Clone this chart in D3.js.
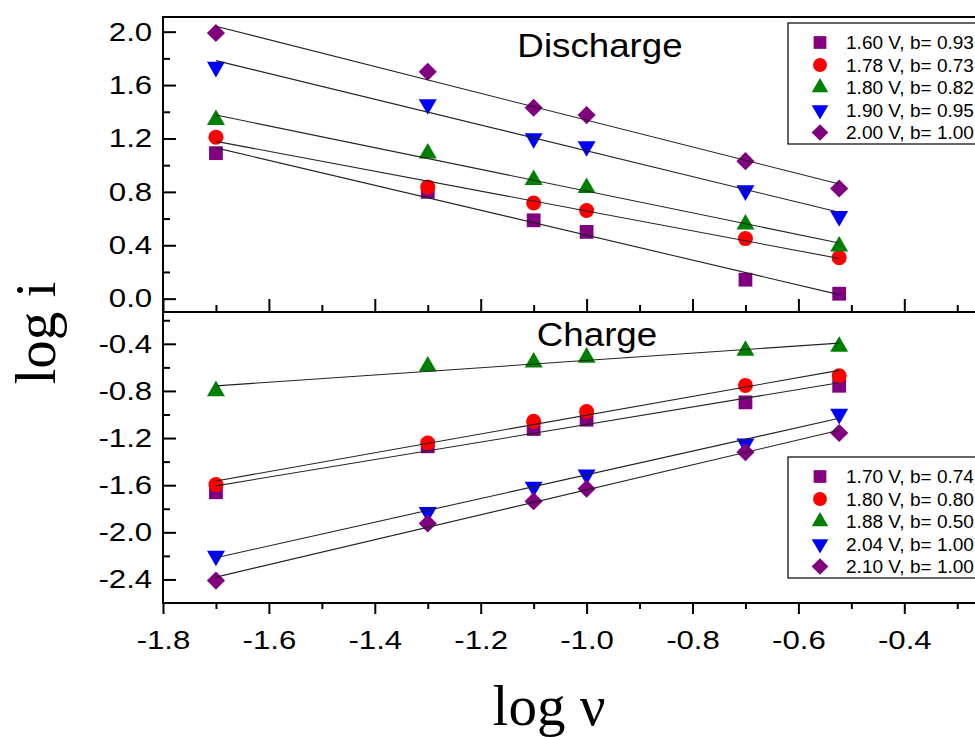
<!DOCTYPE html>
<head><meta charset="utf-8"/></head>
<style>
body { margin: 0; background: #fff; }
svg { display: block; background: #fff; }
.sans { font-family: "Liberation Sans", Arial, sans-serif; }
.serif { font-family: "Liberation Serif", "Times New Roman", serif; }
.fit { fill: none; stroke: #222; stroke-width: 1.1; }
.frame { stroke: #000; stroke-width: 2; }
.tick line { stroke: #000; stroke-width: 2; }
</style>
<script src="https://d3js.org/d3.v7.min.js"></script>
<body>
<div id="chart"></div>
</body>
<script>

// scan rates (log v), shared by both panels
var logV = [-1.7, -1.3, -1.1, -1.0, -0.7, -0.523];

// discharge panel
var disVolt = ["1.60", "1.78", "1.80", "1.90", "2.00"];
var disB = ["0.93", "0.73", "0.82", "0.95", "1.00"];
var dis160 = [1.09, 0.80, 0.587, 0.50, 0.142, 0.037];
var dis178 = [1.21, 0.837, 0.717, 0.66, 0.45, 0.307];
var dis180 = [1.34, 1.088, 0.89, 0.83, 0.557, 0.392];
var dis190 = [1.735, 1.455, 1.20, 1.14, 0.81, 0.617];
var dis200 = [1.99, 1.70, 1.43, 1.375, 1.03, 0.825];

// charge panel
var chVolt = ["1.70", "1.80", "1.88", "2.04", "2.10"];
var chB = ["0.74", "0.80", "0.50", "1.00", "1.00"];
var ch170 = [-1.66, -1.27, -1.123, -1.044, -0.897, -0.756];
var ch180 = [-1.595, -1.242, -1.058, -0.974, -0.753, -0.671];
var ch188 = [-0.80, -0.592, -0.558, -0.516, -0.457, -0.423];
var ch204 = [-2.20, -1.83, -1.614, -1.51, -1.247, -0.996];
var ch210 = [-2.41, -1.925, -1.736, -1.63, -1.32, -1.157];

var xMajor = [-1.8, -1.6, -1.4, -1.2, -1.0, -0.8, -0.6, -0.4];
var xMinor = [-1.7, -1.5, -1.3, -1.1, -0.9, -0.7, -0.5, -0.3];
var yTopMajor = [0, 0.4, 0.8, 1.2, 1.6, 2.0];
var yTopMinor = [0.2, 0.6, 1.0, 1.4, 1.8];
var yBotMajor = [-2.4, -2.0, -1.6, -1.2, -0.8, -0.4];
var yBotMinor = [-2.2, -1.8, -1.4, -1.0, -0.6, -0.2];

var colors = ["#800080", "#ff0000", "#008000", "#0000ff", "#800080"];

var W = 975, H = 737;
var pLeft = 163, pTop = 17, pMid = 312, pBottom = 603;

var svg = d3.select("#chart").append("svg")
    .attr("width", W)
    .attr("height", H);

var x = d3.scaleLinear().domain([-1.8, -0.2]).range([pLeft, pLeft + 8 * 105.9]);
var yTop = d3.scaleLinear().domain([-0.1, 2.11]).range([pMid, pTop]);
var yBot = d3.scaleLinear().domain([-2.6, -0.13]).range([pBottom, pMid]);

var fmt = function(d) { return d.toFixed(1); };

// custom diamond (rotated square)
var diamond = {
    draw: function(ctx, size) {
        var r = Math.sqrt(size / 2);
        ctx.moveTo(0, -r); ctx.lineTo(r, 0); ctx.lineTo(0, r); ctx.lineTo(-r, 0); ctx.closePath();
    }
};
var shapes = [
    {type: d3.symbolSquare, size: 190, rot: 0},
    {type: d3.symbolCircle, size: 177, rot: 0},
    {type: d3.symbolTriangle, size: 140, rot: 0},
    {type: d3.symbolTriangle, size: 140, rot: 180},
    {type: diamond, size: 165, rot: 0}
];

// ---- axes ----
function yAxis(scale, major, minor) {
    var g = svg.append("g").attr("transform", "translate(" + pLeft + ",0)");
    g.call(d3.axisLeft(scale).tickValues(major).tickSize(-13).tickPadding(9).tickFormat(fmt));
    g.selectAll("text").attr("class", "sans").style("font-size", "26px").attr("fill", "#000")
        .attr("transform", "scale(1.2,1)");
    g.select(".domain").remove();
    var m = svg.append("g").attr("transform", "translate(" + pLeft + ",0)");
    m.call(d3.axisLeft(scale).tickValues(minor).tickSize(-7).tickFormat(""));
    m.select(".domain").remove();
}
yAxis(yTop, yTopMajor, yTopMinor);
yAxis(yBot, yBotMajor, yBotMinor);

// top panel bottom edge: inward ticks, no labels
var gd = svg.append("g").attr("transform", "translate(0," + pMid + ")");
gd.call(d3.axisBottom(x).tickValues(xMajor).tickSize(-13).tickFormat(""));
gd.select(".domain").remove();
var gd2 = svg.append("g").attr("transform", "translate(0," + pMid + ")");
gd2.call(d3.axisBottom(x).tickValues(xMinor).tickSize(-7).tickFormat(""));
gd2.select(".domain").remove();

// bottom x axis, outward ticks
var gx = svg.append("g").attr("transform", "translate(0," + pBottom + ")");
gx.call(d3.axisBottom(x).tickValues(xMajor).tickSize(11).tickPadding(17).tickFormat(fmt));
gx.selectAll("text").attr("class", "sans").style("font-size", "26px").attr("fill", "#000")
    .attr("transform", "scale(1.2,1)");
gx.select(".domain").remove();
var gx2 = svg.append("g").attr("transform", "translate(0," + pBottom + ")");
gx2.call(d3.axisBottom(x).tickValues(xMinor).tickSize(6).tickFormat(""));
gx2.select(".domain").remove();

// frame lines
[pTop, pMid, pBottom].forEach(function(yy) {
    svg.append("line").attr("class", "frame")
        .attr("x1", pLeft - 1).attr("x2", W).attr("y1", yy).attr("y2", yy);
});
svg.append("line").attr("class", "frame")
    .attr("x1", pLeft).attr("x2", pLeft).attr("y1", pTop - 1).attr("y2", pBottom + 1);

// ---- data ----
function fitLine(xs, ys) {
    var mx = d3.mean(xs), my = d3.mean(ys);
    var sxy = d3.sum(xs, function(v, i) { return (v - mx) * (ys[i] - my); });
    var sxx = d3.sum(xs, function(v) { return (v - mx) * (v - mx); });
    var k = sxy / sxx, c = my - k * mx;
    var x0 = d3.min(xs), x1 = d3.max(xs);
    return [[x0, k * x0 + c], [x1, k * x1 + c]];
}

function panel(series, yScale) {
    series.forEach(function(ys, i) {
        var s = shapes[i];
        svg.append("g").selectAll("path")
            .data(ys)
            .enter().append("path")
            .attr("d", d3.symbol().type(s.type).size(s.size))
            .attr("transform", function(d, j) {
                return "translate(" + x(logV[j]) + "," + yScale(d) + ") rotate(" + s.rot + ")";
            })
            .attr("fill", colors[i]);
    });
    var line = d3.line().x(function(d) { return x(d[0]); }).y(function(d) { return yScale(d[1]); });
    series.forEach(function(ys) {
        svg.append("path").attr("class", "fit").attr("d", line(fitLine(logV, ys)));
    });
}
panel([dis160, dis178, dis180, dis190, dis200], yTop);
panel([ch170, ch180, ch188, ch204, ch210], yBot);

// ---- legends ----
function legend(y0, y1, volts, bs) {
    svg.append("rect")
        .attr("x", 788).attr("y", y0).attr("width", 200).attr("height", y1 - y0)
        .attr("fill", "#fff").attr("stroke", "#000").attr("stroke-width", 1.2);
    var rowY = d3.scaleLinear().domain([0, 4]).range([y0 + 19.5, y1 - 11.5]);
    volts.forEach(function(v, i) {
        var s = shapes[i];
        svg.append("path")
            .attr("d", d3.symbol().type(s.type).size(s.size * 0.85))
            .attr("transform", "translate(820," + rowY(i) + ") rotate(" + s.rot + ")")
            .attr("fill", colors[i]);
        svg.append("text").attr("class", "sans")
            .attr("x", 846).attr("y", rowY(i)).attr("dy", "0.36em")
            .attr("transform", "translate(" + (-846 * 0.03) + ",0) scale(1.03,1)")
            .style("font-size", "18.5px")
            .text(v + " V, b= " + bs[i]);
    });
}
legend(23, 144, disVolt, disB);
legend(457, 578, chVolt, chB);

// ---- titles ----
svg.append("text").attr("class", "sans")
    .attr("text-anchor", "middle")
    .attr("transform", "translate(600,57) scale(1.08,1)")
    .style("font-size", "34px")
    .text("Discharge");
svg.append("text").attr("class", "sans")
    .attr("text-anchor", "middle")
    .attr("transform", "translate(597,346) scale(1.08,1)")
    .style("font-size", "34px")
    .text("Charge");

svg.append("text").attr("class", "serif")
    .attr("text-anchor", "middle")
    .attr("transform", "translate(55,333) rotate(-90)")
    .style("font-size", "57px")
    .text("log i");
svg.append("text").attr("class", "serif")
    .attr("text-anchor", "middle")
    .attr("x", 549).attr("y", 725)
    .style("font-size", "57px")
    .text("log \u03bd");

</script>
